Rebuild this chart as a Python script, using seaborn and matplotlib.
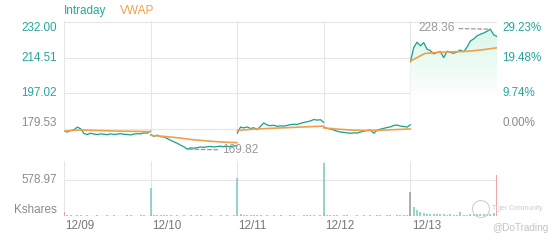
import numpy as np
import pandas as pd
import matplotlib
matplotlib.use("Agg")
import matplotlib.pyplot as plt
import matplotlib.transforms as mtransforms
from matplotlib.colors import LinearSegmentedColormap
from matplotlib.path import Path
from matplotlib.patches import Ellipse
import seaborn as sns

sns.set_style("white")
plt.rcParams['font.family'] = ['Liberation Sans', 'DejaVu Sans']

# ---------------- data ----------------
days = ["12/09", "12/10", "12/11", "12/12", "12/13"]
minutes = list(range(0, 391, 15))          # sample times within a session
vwap_minutes = list(range(0, 391, 65))

price_1209 = [178.6, 178.2, 178.9, 179.3, 180.6, 179.8, 177.4, 177.0, 177.6, 177.2, 177.0, 177.3, 177.1, 176.9,
              177.3, 177.0, 177.2, 177.4, 177.1, 177.0, 176.8, 177.2, 177.4, 177.3, 177.8, 177.6, 178.7]
price_1210 = [176.9, 176.1, 176.7, 175.9, 175.8, 175.0, 174.2, 173.4, 172.7, 171.8, 171.0, 169.82, 170.5, 170.3,
              170.6, 170.9, 170.7, 171.0, 171.2, 170.9, 171.1, 171.3, 171.0, 171.2, 171.1, 171.4, 171.5]
price_1211 = [177.6, 180.6, 180.2, 180.7, 179.9, 180.3, 179.3, 181.0, 182.6, 181.6, 181.3, 181.5, 181.0, 181.2,
              181.1, 181.4, 181.8, 182.0, 181.9, 182.4, 182.9, 183.2, 183.6, 184.3, 184.0, 184.2, 182.9]
price_1212 = [180.5, 180.0, 179.6, 179.2, 178.6, 178.2, 178.0, 177.8, 177.6, 177.8, 177.7, 178.2, 178.6, 179.0,
              179.2, 177.6, 179.1, 179.6, 180.0, 180.4, 180.7, 181.4, 181.6, 181.1, 180.9, 180.6, 181.8]
price_1213 = [212.4, 219.4, 222.0, 220.2, 221.8, 218.6, 217.9, 216.3, 217.0, 217.4, 214.5, 217.6, 217.0, 216.6,
              217.3, 218.2, 217.3, 219.6, 222.6, 223.6, 225.1, 225.9, 226.5, 227.3, 228.36, 225.6, 224.8]

vwap_1209 = [178.6, 179.2, 179.0, 178.8, 178.6, 178.5, 178.4]
vwap_1210 = [176.6, 176.0, 175.3, 174.4, 173.8, 173.3, 173.0]
vwap_1211 = [179.0, 179.5, 179.9, 180.2, 180.5, 180.8, 181.1]
vwap_1212 = [180.2, 179.6, 179.1, 178.9, 179.1, 179.4, 179.7]
vwap_1213 = [212.8, 216.5, 217.1, 217.3, 217.6, 218.3, 219.3]

vol_1209 = [70, 12, 10, 8, 14, 9, 7, 10, 8, 6, 9, 7, 8, 10, 6, 9, 7, 8, 6, 9, 12, 8, 7, 9, 10, 8, 15]
vol_1210 = [445, 20, 14, 10, 12, 9, 11, 8, 10, 7, 9, 8, 12, 7, 9, 10, 8, 6, 9, 7, 8, 10, 7, 9, 8, 10, 14]
vol_1211 = [606, 25, 16, 12, 10, 9, 12, 10, 8, 9, 7, 10, 8, 9, 7, 8, 10, 9, 7, 8, 9, 10, 12, 9, 8, 10, 16]
vol_1212 = [850, 22, 15, 12, 10, 8, 9, 11, 8, 7, 9, 8, 10, 7, 9, 8, 12, 9, 8, 10, 9, 8, 10, 9, 11, 10, 18]
vol_1213 = [391, 140, 95, 60, 45, 35, 40, 30, 25, 28, 30, 22, 25, 20, 24, 70, 20, 22, 25, 28, 30, 26, 30, 35, 40, 45, 660]

prev_close = 179.53
price_ticks = [232.00, 214.51, 197.02, 179.53]
vol_tick = 578.97
high_price, low_price = 228.36, 169.82

# ---------------- frames ----------------
prices = [price_1209, price_1210, price_1211, price_1212, price_1213]
vwaps = [vwap_1209, vwap_1210, vwap_1211, vwap_1212, vwap_1213]
vols = [vol_1209, vol_1210, vol_1211, vol_1212, vol_1213]
SESSION = 390

df = pd.DataFrame([
    {"day": d, "t": i * SESSION + m, "price": p, "vol": v}
    for i, d in enumerate(days)
    for m, p, v in zip(minutes, prices[i], vols[i])
])
dv = pd.DataFrame([
    {"day": d, "t": i * SESSION + m, "vwap": w}
    for i, d in enumerate(days)
    for m, w in zip(vwap_minutes, vwaps[i])
])

# ---------------- style ----------------
TEAL = "#17a08f"
TEAL_TXT = "#26a69a"
ORANGE = "#f0a04b"
GREY_TXT = "#8a8a8a"
GRID = "#e6e6e6"
RED = "#ee8a8a"

W, H = 560, 240
fig = plt.figure(figsize=(W / 100, H / 100), dpi=100)


def rect(x0, y0, x1, y1):
    return [x0 / W, 1 - y1 / H, (x1 - x0) / W, (y1 - y0) / H]


axp = fig.add_axes(rect(64, 21, 497, 161))
axv = fig.add_axes(rect(64, 161, 497, 216))

xmax = SESSION * len(days)
ylo, yhi = 164.07, 232.34
fill_floor = ylo - 8

# gradient fill under the intraday line
paths = []
for d in days:
    sub = df[df.day == d]
    pc = axp.fill_between(sub.t, sub.price, fill_floor, facecolor="none", edgecolor="none", lw=0)
    paths.extend(pc.get_paths())
cmap = LinearSegmentedColormap.from_list("mint", ["#ffffff", "#ffffff", "#d6f6e6"])
grad = np.linspace(1, 0, 256).reshape(-1, 1)
im = axp.imshow(grad, extent=[0, xmax, fill_floor, yhi], aspect="auto", cmap=cmap,
                origin="upper", zorder=1, interpolation="bilinear")
im.set_clip_path(Path.make_compound_path(*paths), transform=axp.transData)

sns.lineplot(data=df, x="t", y="price", units="day", estimator=None, color=TEAL,
             lw=0.9, ax=axp, zorder=3, legend=False)
sns.lineplot(data=dv, x="t", y="vwap", units="day", estimator=None, color=ORANGE,
             lw=1.2, ax=axp, zorder=4, legend=False)

axp.set_xlim(0, xmax)
axp.set_ylim(ylo, yhi)
for i in range(len(days) + 1):
    axp.axvline(i * SESSION, color=GRID, lw=0.8, zorder=0)
for p in price_ticks:
    axp.axhline(p, color=GRID, lw=0.8, zorder=0)

# high / low annotations
hi_row = df.loc[df.price.idxmax()]
lo_row = df.loc[df.price.idxmin()]
dash = dict(arrowstyle="-", color="#9a9a9a", lw=0.9, linestyle=(0, (3, 2)), shrinkA=1, shrinkB=0)
axp.annotate(f"{high_price:.2f}", xy=(hi_row.t, hi_row.price), xytext=(-36, 1),
             textcoords="offset pixels", ha="right", va="center", fontsize=8.6,
             color="#999999", arrowprops=dash, zorder=5)
axp.annotate(f"{low_price:.2f}", xy=(lo_row.t, lo_row.price), xytext=(35, -1),
             textcoords="offset pixels", ha="left", va="center", fontsize=8.6,
             color="#999999", arrowprops=dash, zorder=5)

# price axis labels (left) and percent labels (right)
bt = mtransforms.blended_transform_factory(axp.transAxes, axp.transData)
for k, p in enumerate(price_ticks):
    va = "top" if k == 0 else ("bottom" if k == len(price_ticks) - 1 else "center")
    col = GREY_TXT if p == prev_close else TEAL_TXT
    axp.text(-0.017, p, f"{p:.2f}", transform=bt, ha="right", va=va, fontsize=8.4, color=col)
    pct = (p / prev_close - 1) * 100
    axp.text(1.012, p, f"{pct:.2f}%", transform=bt, ha="left", va=va, fontsize=8.4, color=col)

# volume panel
axv.set_xlim(0, xmax)
axv.set_ylim(0, 884.5)
for i in range(len(days) + 1):
    axv.axvline(i * SESSION, color=GRID, lw=0.8, zorder=0)
axv.axhline(vol_tick, color=GRID, lw=0.8, zorder=0)
axv.axhline(0, color="#d6d6d6", lw=0.9, zorder=0)
colors = []
for i, d in enumerate(days):
    for j in range(len(minutes)):
        if (i == 0 and j == 0) or (i == len(days) - 1 and j == len(minutes) - 1):
            colors.append(RED)
        elif i == len(days) - 1 and j == 0:
            colors.append("#a3969e")
        else:
            colors.append("#7cc8c0")
axv.vlines(df.t, 0, df.vol, colors=colors, lw=1.1, zorder=2)
btv = mtransforms.blended_transform_factory(axv.transAxes, axv.transData)
axv.text(-0.017, vol_tick, f"{vol_tick:.2f}", transform=btv, ha="right", va="center",
         fontsize=8.4, color=GREY_TXT)
axv.text(-0.017, 0, "Kshares", transform=btv, ha="right", va="bottom", fontsize=8.4, color=GREY_TXT)

# day labels
btx = mtransforms.blended_transform_factory(axv.transData, axv.transAxes)
for i, d in enumerate(days):
    axv.text(i * SESSION + 6, -0.08, d, transform=btx, ha="left", va="top", fontsize=8.4, color="#777777")

for ax in (axp, axv):
    ax.set_axis_off()

# header legend
fig.text(64 / W, 1 - 11 / H, "Intraday", color=TEAL_TXT, fontsize=8.5, ha="left", va="center")
fig.text(120 / W, 1 - 11 / H, "VWAP", color=ORANGE, fontsize=8.5, ha="left", va="center")

# watermark
fig.patches.append(Ellipse((481 / W, 1 - 209 / H), 17 / W, 17 / H, transform=fig.transFigure,
                           fill=False, ec="#d0d0d0", lw=0.8))
fig.text(492 / W, 1 - 208 / H, "Tiger Community", color="#cccccc", fontsize=4.8, ha="left", va="center")
fig.text(492 / W, 1 - 228 / H, "@DoTrading", color="#c4c4c4", fontsize=7.2, ha="left", va="center")

fig.savefig("out.png", dpi=100)
